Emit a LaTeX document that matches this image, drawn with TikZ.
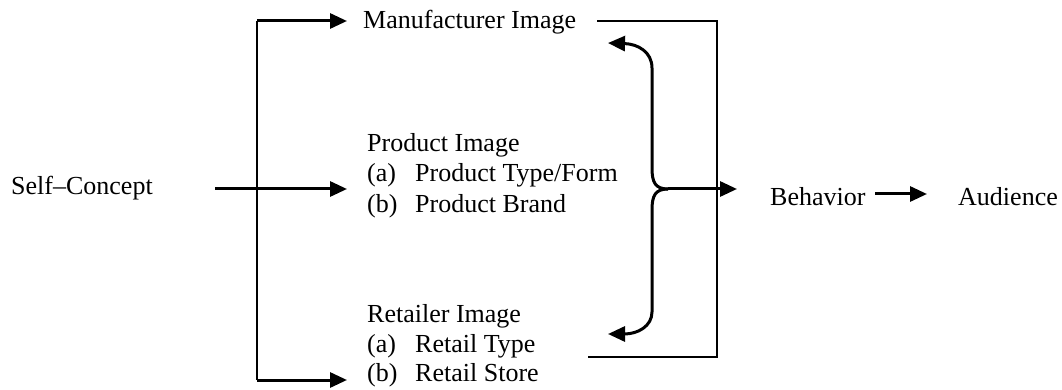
\documentclass[tikz,border=0pt]{standalone}
\usepackage{fontspec}
\setmainfont{Liberation Serif}
\usetikzlibrary{arrows.meta}
\begin{document}
\begin{tikzpicture}[x=1pt,y=-1pt,
  lbl/.style={anchor=base west,inner sep=0pt,font=\fontsize{26}{30}\selectfont},
  feed/.style={line width=3pt,-{Triangle[length=17pt,width=15pt]}},
  frame/.style={line width=1.6pt},
  bracearrow/.style={line width=3pt,-{Triangle[length=17pt,width=15pt]}}]
\useasboundingbox (0,0) rectangle (1062,390);
% text nodes
\node[lbl] (sc) at (11,195) {Self\textendash Concept};
\node[lbl] (mi) at (363,29) {Manufacturer Image};
\node[lbl] (pi) at (367,152) {Product Image};
\node[lbl] (pa) at (367,182) {\makebox[48pt][l]{(a)}Product Type/Form};
\node[lbl] (pb) at (367,212) {\makebox[48pt][l]{(b)}Product Brand};
\node[lbl] (ri) at (367,322) {Retailer Image};
\node[lbl] (ra) at (367,352) {\makebox[48pt][l]{(a)}Retail Type};
\node[lbl] (rb) at (367,381) {\makebox[48pt][l]{(b)}Retail Store};
\node[lbl] (be) at (770,205) {Behavior};
\node[lbl] (au) at (958,205) {Audience};
% coordinates
\coordinate (scout) at (215,189);
\coordinate (jtop) at (257,21);
\coordinate (jmid) at (257,189);
\coordinate (jbot) at (257,380);
\coordinate (miin) at (347,21);
\coordinate (piin) at (347,189);
\coordinate (rbin) at (347,380);
\coordinate (miout) at (597,21);
\coordinate (fr1) at (717,21);
\coordinate (fr2) at (717,357);
\coordinate (raout) at (588,357);
\coordinate (tip) at (668,189);
\coordinate (bein) at (737,189);
\coordinate (mibr) at (608,43);
\coordinate (ribr) at (608,334);
\coordinate (beout) at (875,194);
\coordinate (auin) at (927,194);
% left fan
\draw[frame] (jbot) -- (jtop);
\draw[feed] (jtop) -- (miin);
\draw[feed] (scout) -- (piin);
\draw[feed] (jbot) -- (rbin);
% frame
\draw[frame] (miout) -- (fr1) -- (fr2) -- (raout);
% brace
\draw[bracearrow] (tip) .. controls (655,189) and (652,182) .. (652,168) -- (652,68) .. controls (652,52) and (638,44) .. (mibr);
\draw[bracearrow] (tip) .. controls (655,189) and (652,196) .. (652,210) -- (652,312) .. controls (652,326) and (638,334) .. (ribr);
\draw[feed] (tip) -- (bein);
\draw[feed] (beout) -- (auin);
\end{tikzpicture}
\end{document}
